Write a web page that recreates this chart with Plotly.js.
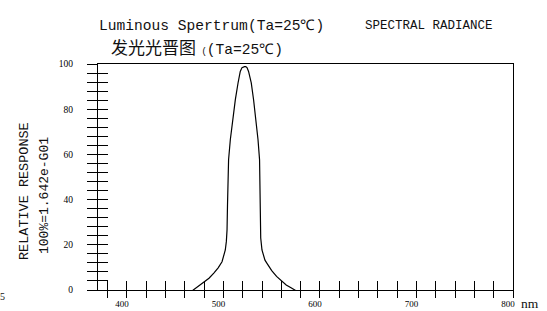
<!DOCTYPE html>
<html><head><meta charset="utf-8">
<script src="https://cdn.plot.ly/plotly-3.0.1.min.js"></script>
<style>html,body{margin:0;padding:0;background:#fff;overflow:hidden}</style>
</head><body>
<div id="chart" style="width:547px;height:311px"></div>
<script>
// ---- data ----
const wavelength = [464, 472, 480, 485, 490, 494.5, 498.5, 500.5, 501.9, 503, 503.7, 504.2, 504.7, 505.3, 507.1, 509.5, 512.3, 515.1, 517.4, 519.2, 520.6, 521.8, 523.1, 524.4, 526.0, 528.8, 531.2, 533.7, 535.8, 537.4, 537.8, 538.2, 538.6, 539.9, 541.5, 543, 545.1, 550, 555, 560.7, 565, 570, 575, 578.6];
const response   = [-1.5, 0.9, 3.3, 5.2, 7.5, 9.8, 12.5, 15, 17.7, 21.5, 26.6, 38, 53.2, 57.6, 66.5, 75.3, 84.2, 91.6, 96.7, 98.4, 98.8, 98.8, 98.8, 98.4, 96.7, 91.6, 84.2, 75.3, 66.5, 57.6, 45, 29.7, 23, 17.7, 14.6, 13.2, 11.8, 8.6, 6.0, 3.7, 2.2, 1.0, -0.2, -1.2];

const xTickVals  = [380, 400, 420, 440, 460, 480, 500, 520, 540, 560, 580, 600, 620, 640, 660, 680, 700, 720, 740, 760, 780, 800];
const xLabelVals = [400, 500, 600, 700, 800];
const yTickVals  = [0, 4, 8, 12, 16, 20, 24, 28, 32, 36, 40, 44, 48, 52, 56, 60, 64, 68, 72, 76, 80, 84, 88, 92, 96, 100];
const yLabelVals = [0, 20, 40, 60, 80, 100];
const xRange = [370, 800];
const yRange = [0, 100];

const titleLine1 = "Luminous Spertrum(Ta=25℃)";
const titleLine2a = "发光光晋图";
const titleLine2b = "(Ta=25℃)";
const rightTitle = "SPECTRAL RADIANCE";
const yTitle1 = "RELATIVE RESPONSE";
const yTitle2 = "100%=1.642e-G01";
const xUnit = "nm";

// ---- build chart ----
const xTickText = xTickVals.map(v => xLabelVals.includes(v) ? String(v) : '');
const yTickText = yTickVals.map(v => yLabelVals.includes(v) ? String(v) : '');

const W = 547, H = 311, L = 98, R = 34, T = 64, B = 21;
const pw = W - L - R, ph = H - T - B;
const px = x => (x - L) / pw;
const py = y => (H - B - y) / ph;

const mono = 'Liberation Mono, DejaVu Sans Mono, monospace';
const serif = 'Liberation Serif, DejaVu Serif, serif';

const traces = [
  {x: wavelength, y: response, type: 'scatter', mode: 'lines',
   line: {color: '#000', width: 1.2}, hoverinfo: 'skip', cliponaxis: false},
  {x: [], y: [], type: 'scatter', mode: 'lines', xaxis: 'x2', yaxis: 'y2', hoverinfo: 'skip'}
];

const axBase = {showgrid: false, zeroline: false, tickcolor: '#000', tickwidth: 1, fixedrange: true};

const ann = (text, x, y, size, family, extra) => Object.assign({
  text: text, xref: 'paper', yref: 'paper', x: px(x), y: py(y),
  xanchor: 'center', yanchor: 'middle', showarrow: false,
  font: {family: family, size: size, color: '#111'}
}, extra || {});

const layout = {
  width: W, height: H,
  margin: {l: L, r: R, t: T, b: B, pad: 0},
  paper_bgcolor: '#fff', plot_bgcolor: '#fff', showlegend: false,
  xaxis: Object.assign({}, axBase, {
    range: xRange, tickmode: 'array', tickvals: xTickVals, ticktext: xTickText,
    ticks: 'outside', ticklen: 7, showline: true, linecolor: '#000', linewidth: 1, mirror: true,
    tickfont: {family: serif, size: 9, color: '#000'}, ticklabelshift: -5, ticklabelstandoff: -2
  }),
  xaxis2: Object.assign({}, axBase, {
    overlaying: 'x', anchor: 'y', range: xRange, tickmode: 'array', tickvals: xTickVals,
    showticklabels: false, ticks: 'inside', ticklen: 9, showline: false
  }),
  yaxis: Object.assign({}, axBase, {
    range: yRange, tickmode: 'array', tickvals: yTickVals, ticktext: yTickText,
    ticks: 'outside', ticklen: 10, showline: true, linecolor: '#000', linewidth: 1, mirror: true,
    tickfont: {family: serif, size: 9.5, color: '#000'}, ticklabelstandoff: 12
  }),
  yaxis2: Object.assign({}, axBase, {
    overlaying: 'y', anchor: 'x', range: yRange, tickmode: 'array', tickvals: yTickVals,
    showticklabels: false, ticks: 'inside', ticklen: 10, showline: false
  }),
  annotations: [
    ann(titleLine1, 211, 26, 14.6, mono),
    ann('<span style="font-family:\'Noto Sans CJK SC\';font-size:17px">' + titleLine2a + '</span>' +
        '<span style="font-size:9px"> (</span>' + titleLine2b, 197, 46, 14.6, mono),
    ann(rightTitle, 429, 26, 12.5, mono),
    ann(yTitle1, 24, 191, 13.5, mono, {textangle: -90}),
    ann(yTitle2, 44, 196, 13, mono, {textangle: -90}),
    ann(xUnit, 530, 303, 13.5, serif),
    ann('5', -2, 296, 10, serif, {xanchor: 'left'})
  ]
};

Plotly.newPlot('chart', traces, layout, {staticPlot: true, displayModeBar: false});
</script>
</body></html>
